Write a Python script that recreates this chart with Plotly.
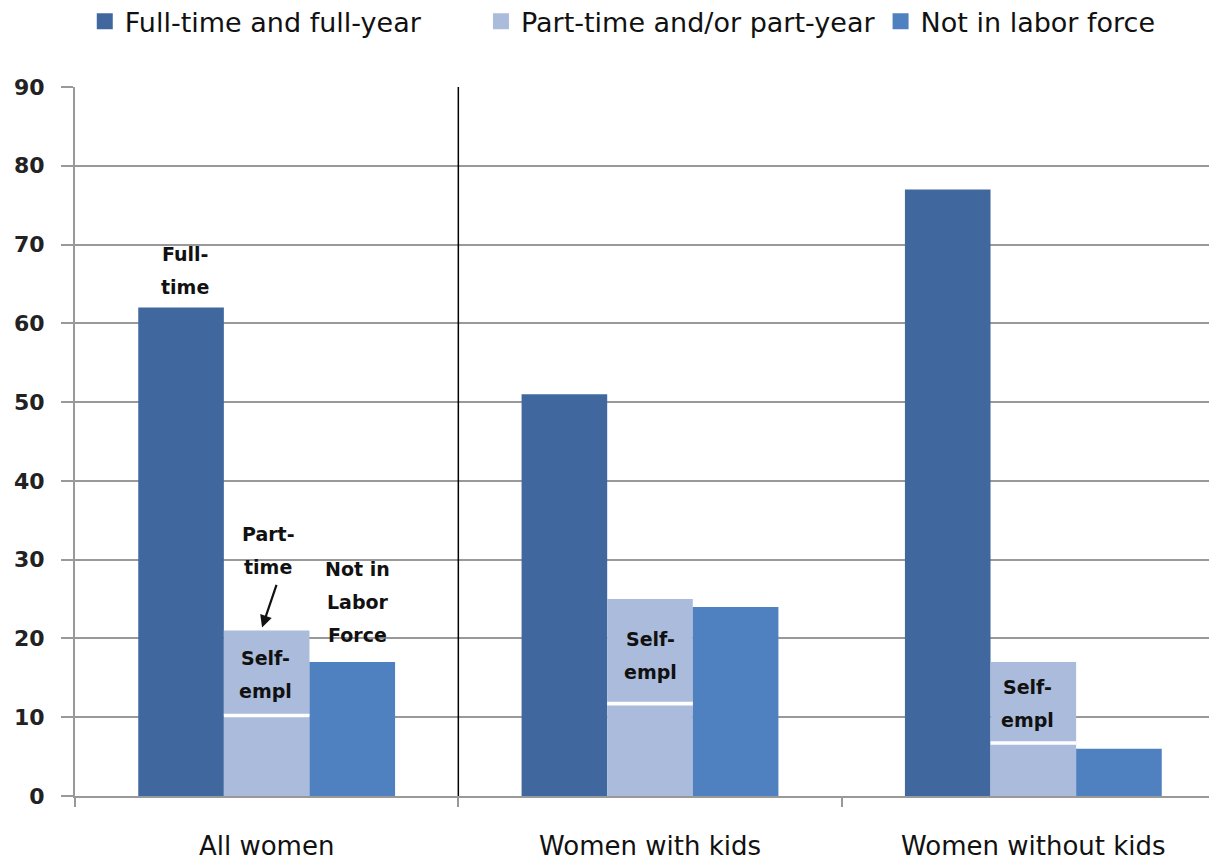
import plotly.graph_objects as go

categories = ["All women", "Women with kids", "Women without kids"]
full_time = [62, 51, 77]
part_time = [21, 25, 17]
not_in_lf = [17, 24, 6]
self_empl = [10, 11.5, 6.5]
series_names = ["Full-time and full-year", "Part-time and/or part-year", "Not in labor force"]
y_ticks = [0, 10, 20, 30, 40, 50, 60, 70, 80, 90]

C_FULL = "#40689F"
C_PART = "#AABBDB"
C_NOT = "#4F80BF"
colors = [C_FULL, C_PART, C_NOT]
series_values = [full_time, part_time, not_in_lf]

FONT = "DejaVu Sans, Verdana, sans-serif"

fig = go.Figure()
for i, (nm, vals, col) in enumerate(zip(series_names, series_values, colors)):
    fig.add_trace(go.Bar(x=categories, y=vals, name=nm, marker_color=col,
                         offsetgroup=str(i), marker_line_width=0, showlegend=False,
                         legendgroup=nm))
# white divider line for self-employed share inside part-time bars
fig.add_trace(go.Bar(x=categories, y=[0.45] * len(categories), base=self_empl, marker_color="white",
                     offsetgroup="1", showlegend=False, marker_line_width=0, hoverinfo="skip"))
# legend-only entries (square swatches), one legend per entry for exact placement
legend_ids = ["legend", "legend2", "legend3"]
for nm, col, lg in zip(series_names, colors, legend_ids):
    fig.add_trace(go.Scatter(x=[None], y=[None], mode="markers", name=nm, legendgroup=nm,
                             marker=dict(symbol="square", size=16, color=col),
                             legend=lg, showlegend=True))

ann_font = dict(family=FONT, size=19, color="#111", weight="bold")
LINE = 33
anns = [
    (-0.213, 68.8, ["Full-", "time"]),
    (0.0035, 33.2, ["Part-", "time"]),
    (0.238, 28.8, ["Not in", "Labor", "Force"]),
    (-0.004, 17.5, ["Self-", "empl"]),
    (1.0, 19.9, ["Self-", "empl"]),
    (1.986, 13.8, ["Self-", "empl"]),
]
for x, y, lines in anns:
    for k, t in enumerate(lines):
        fig.add_annotation(xref="x", yref="y", x=x, y=y, yshift=-LINE * k, text=t,
                           showarrow=False, font=ann_font, xanchor="center", yanchor="middle")
# arrow pointing at the part-time bar
fig.add_annotation(xref="x", yref="y", axref="x", ayref="y", x=-0.012, y=21.4, ax=0.027, ay=27.0,
                   showarrow=True, arrowhead=2, arrowsize=1.1, arrowwidth=2.2, arrowcolor="#111", text="")

fig.add_shape(type="line", xref="x", yref="y", x0=0.5, x1=0.5, y0=-0.5, y1=90,
              line=dict(color="black", width=1.5))

leg_common = dict(orientation="h", xref="paper", yref="paper", xanchor="left", yanchor="middle",
                  y=1.092, font=dict(family=FONT, size=27, color="#111"), bgcolor="rgba(0,0,0,0)")
fig.update_layout(
    width=1217, height=861,
    margin=dict(l=67, r=0, t=79, b=73, autoexpand=False),
    plot_bgcolor="white", paper_bgcolor="white",
    barmode="group", bargap=0.33, bargroupgap=0,
    legend=dict(x=0.0085, **leg_common),
    legend2=dict(x=0.353, **leg_common),
    legend3=dict(x=0.7005, **leg_common),
)
fig.update_xaxes(type="category", range=[-0.5, 2.5], showgrid=False, automargin=False,
                 showline=True, linecolor="#999", linewidth=2,
                 ticks="outside", tickson="boundaries", ticklen=9, tickcolor="#999", tickwidth=1.5,
                 tickfont=dict(family=FONT, size=26, color="#111"), ticklabelstandoff=26)
fig.update_yaxes(range=[0, 90], tickvals=y_ticks, showgrid=True, gridcolor="#999", gridwidth=2,
                 showline=True, linecolor="#999", linewidth=2, zeroline=False, automargin=False,
                 ticks="outside", ticklen=12, tickcolor="#999", tickwidth=1.5,
                 tickfont=dict(family=FONT, size=22, color="#222", weight="bold"),
                 ticklabelstandoff=12)

fig.write_html("out.html")
